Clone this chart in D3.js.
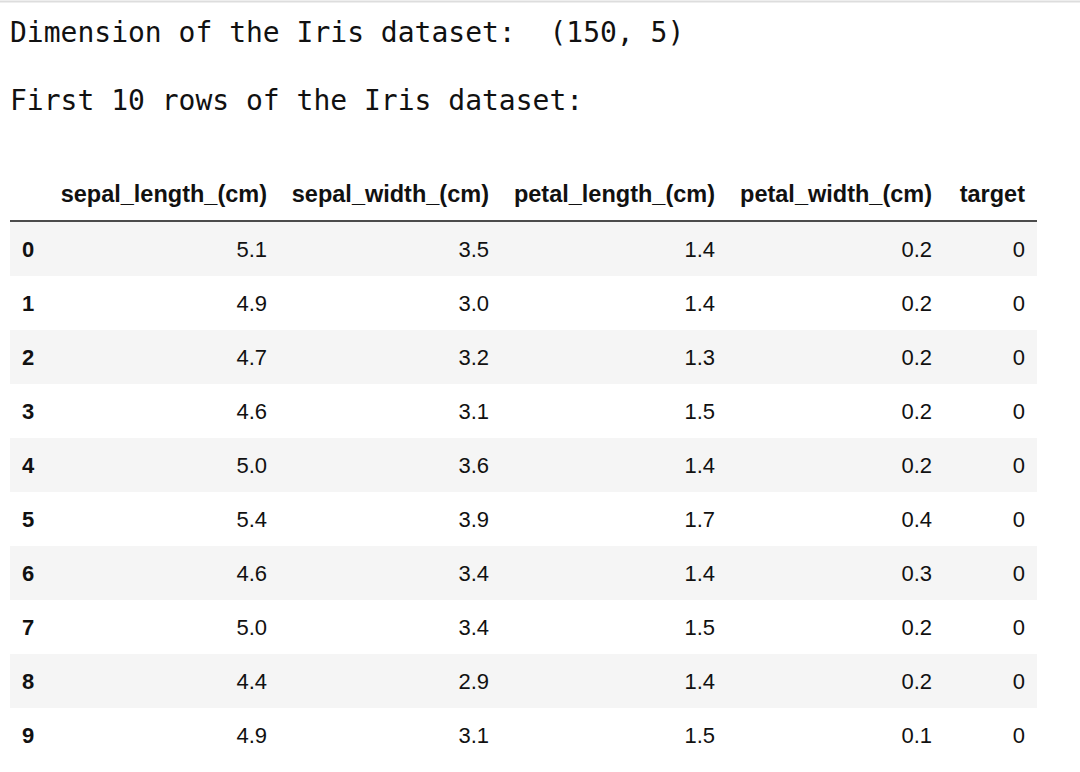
<!DOCTYPE html>
<html><head><meta charset="utf-8">
<script src="https://cdn.jsdelivr.net/npm/d3@7"></script>
<style>body{margin:0;background:#fff}</style></head>
<body><svg id="c" width="1080" height="772"></svg>
<script>
const columns=["sepal_length_(cm)","sepal_width_(cm)","petal_length_(cm)","petal_width_(cm)","target"];
const rowIndex=["0","1","2","3","4","5","6","7","8","9"];
const sepalLength=["5.1","4.9","4.7","4.6","5.0","5.4","4.6","5.0","4.4","4.9"];
const sepalWidth=["3.5","3.0","3.2","3.1","3.6","3.9","3.4","3.4","2.9","3.1"];
const petalLength=["1.4","1.4","1.3","1.5","1.4","1.7","1.4","1.5","1.4","1.5"];
const petalWidth=["0.2","0.2","0.2","0.2","0.2","0.4","0.3","0.2","0.2","0.1"];
const target=["0","0","0","0","0","0","0","0","0","0"];
const series=[sepalLength,sepalWidth,petalLength,petalWidth,target];

const svg=d3.select("#c");
svg.append("line").attr("x1",0).attr("x2",1080).attr("y1",1.5).attr("y2",1.5).attr("stroke","#ddd").attr("stroke-width",2);
const mono="'DejaVu Sans Mono',monospace";
svg.append("text").attr("x",10).attr("y",42).attr("font-family",mono).attr("font-size",28).attr("fill","#111").attr("xml:space","preserve").text("Dimension of the Iris dataset:  (150, 5)");
svg.append("text").attr("x",10).attr("y",110).attr("font-family",mono).attr("font-size",28).attr("fill","#111").text("First 10 rows of the Iris dataset:");

const y=d3.scaleBand().domain(rowIndex).range([222,762]).padding(0);
const colRight=[267,489,715,932,1025];
const sans="'Liberation Sans',Arial,sans-serif";
const g=svg.append("g");
g.selectAll("rect").data(rowIndex).join("rect")
 .attr("x",10).attr("width",1027).attr("y",d=>y(d)).attr("height",y.bandwidth())
 .attr("fill",(d,i)=>i%2===0?"#f5f5f5":"#fff");
svg.selectAll(".h").data(columns).join("text").attr("class","h")
 .attr("x",(d,i)=>colRight[i]).attr("y",202).attr("text-anchor","end")
 .attr("font-family",sans).attr("font-weight","bold").attr("font-size",23.5).attr("fill","#111").text(d=>d);
svg.append("line").attr("x1",10).attr("x2",1037).attr("y1",221).attr("y2",221).attr("stroke","#111").attr("stroke-width",1.5);
svg.selectAll(".ix").data(rowIndex).join("text").attr("class","ix")
 .attr("x",22).attr("y",d=>y(d)+y.bandwidth()/2+8)
 .attr("font-family",sans).attr("font-weight","bold").attr("font-size",22).attr("fill","#111").text(d=>d);
series.forEach((s,ci)=>{
 svg.selectAll(".v"+ci).data(s).join("text").attr("class","v"+ci)
  .attr("x",colRight[ci]).attr("y",(d,i)=>y(rowIndex[i])+y.bandwidth()/2+8).attr("text-anchor","end")
  .attr("font-family",sans).attr("font-size",22).attr("fill","#111").text(d=>d);
});
</script></body></html>
